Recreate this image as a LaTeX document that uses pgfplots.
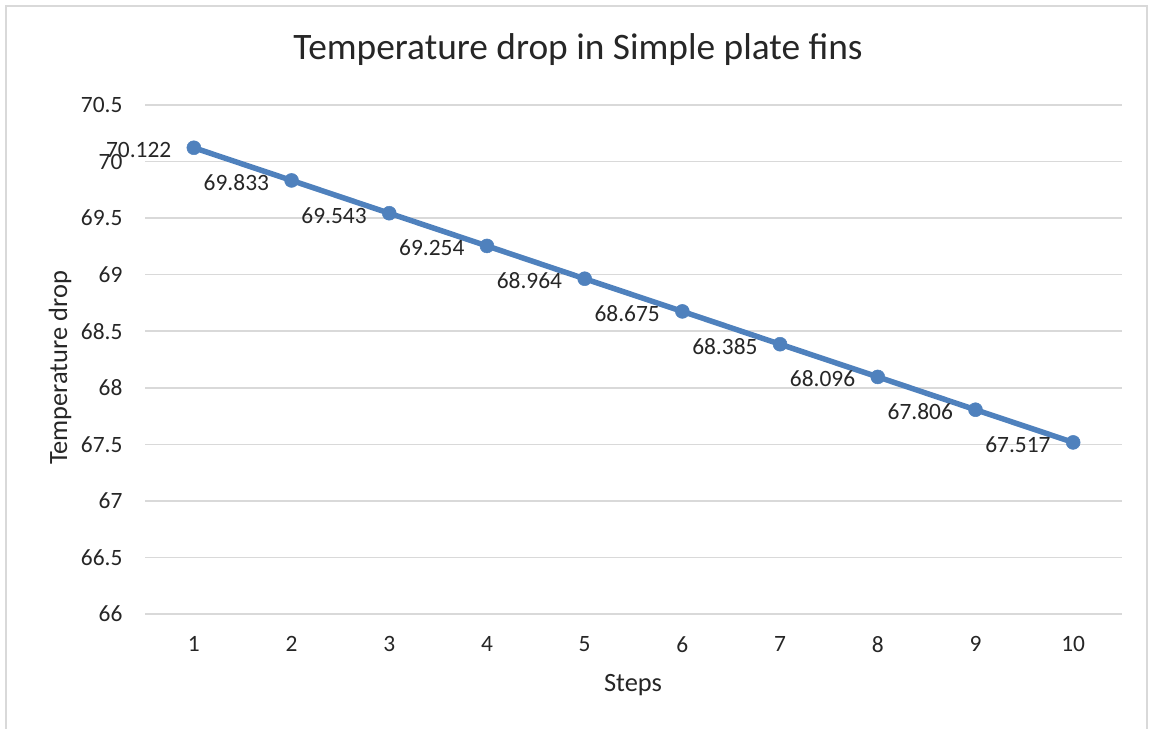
\documentclass[border=0pt]{standalone}
\usepackage{pgfplots}
\pgfplotsset{compat=1.18}
\usepackage{fontspec}
\setmainfont{Carlito}
\definecolor{lineblue}{RGB}{79,129,189}
\definecolor{gridgray}{RGB}{217,217,217}
\begin{document}
\begin{tikzpicture}[x=1bp,y=1bp]
\useasboundingbox (0,0) rectangle (1149,729);
% chart frame
\draw[gridgray, line width=1.5bp] (6,-5) -- (6,723) -- (1147,723) -- (1147,-5);
\begin{axis}[
  at={(145bp,115bp)}, anchor=south west,
  scale only axis,
  width=977bp, height=509bp,
  xmin=0.5, xmax=10.5,
  ymin=66, ymax=70.5,
  xtick={1,...,10},
  ytick={66,66.5,...,70.5},
  axis line style={draw=none},
  major tick length=0pt,
  ymajorgrids,
  grid style={gridgray, line width=1.5bp},
  tick label style={font=\fontsize{23.5}{27}\selectfont, text=black!85},
  /pgf/number format/assume math mode=true,
  yticklabel style={xshift=-19bp},
  xticklabel style={yshift=-19bp},
  clip=false,
]
\addplot[
  color=lineblue, line width=5.5bp,
  mark=*, mark size=7bp, mark options={fill=lineblue, draw=lineblue, line width=0.5bp},
  point meta=explicit symbolic,
  nodes near coords,
  every node near coord/.append style={anchor=east, xshift=-19bp, yshift=-2bp,
    font=\fontsize{23.5}{27}\selectfont, text=black!85},
] coordinates {
  (1,70.122) [70.122]
  (2,69.833) [69.833]
  (3,69.543) [69.543]
  (4,69.254) [69.254]
  (5,68.964) [68.964]
  (6,68.675) [68.675]
  (7,68.385) [68.385]
  (8,68.096) [68.096]
  (9,67.806) [67.806]
  (10,67.517) [67.517]
};
\end{axis}
\node[font=\fontsize{37.5}{44}\selectfont, text=black!85] at (578,679) {Temperature drop in Simple plate fins};
\node[font=\fontsize{26.5}{31}\selectfont, text=black!85] at (633,44) {Steps};
\node[font=\fontsize{26.5}{31}\selectfont, text=black!85, rotate=90] at (60,361) {Temperature drop};
\end{tikzpicture}
\end{document}
